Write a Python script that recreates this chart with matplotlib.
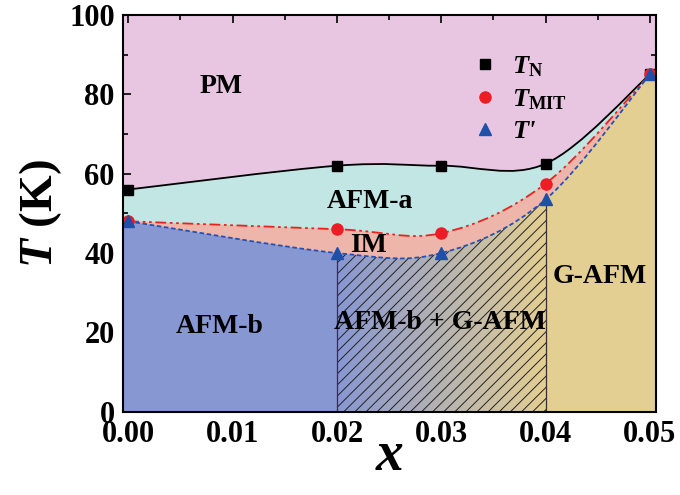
import numpy as np
import matplotlib
matplotlib.use('Agg')
import matplotlib.pyplot as plt
from matplotlib.path import Path
from matplotlib.patches import PathPatch, Rectangle
from matplotlib.ticker import MultipleLocator

plt.rcParams['font.family'] = 'Liberation Serif'
plt.rcParams['font.weight'] = 'bold'
plt.rcParams['mathtext.fontset'] = 'custom'
plt.rcParams['mathtext.it'] = 'Liberation Serif:bold:italic'
plt.rcParams['mathtext.rm'] = 'Liberation Serif:bold'
plt.rcParams['mathtext.bf'] = 'Liberation Serif:bold'

x = [0.0, 0.02, 0.03, 0.04, 0.05]
T_N = [56, 62, 62, 62.5, 85]
T_MIT = [48, 46, 45, 57.5, 85]
T_prime = [48, 40, 40, 53.5, 85]

phase_names = ['PM', 'AFM-a', 'IM', 'AFM-b', 'AFM-b + G-AFM', 'G-AFM']
phase_xy = [(0.0089, 82), (0.0232, 53), (0.0230, 42), (0.0088, 21.5),
            (0.0299, 22.5), (0.0452, 34)]

xmin, xmax = -0.0005, 0.0506
ymin, ymax = 0, 100

c_pm = '#e8c6e2'
c_afma = '#c2e6e4'
c_im = '#eeb5aa'
c_afmb = '#8797d2'
c_gafm = '#e4cf92'


def smooth_path(xs, ys):
    # courbe de Bezier (Catmull-Rom) passant par les points
    pts = np.column_stack([xs, ys]).astype(float)
    n = len(pts)
    verts = [pts[0]]
    codes = [Path.MOVETO]
    for i in range(n - 1):
        p0 = pts[max(i - 1, 0)]
        p1 = pts[i]
        p2 = pts[i + 1]
        p3 = pts[min(i + 2, n - 1)]
        c1 = p1 + (p2 - p0) / 6.0
        c2 = p2 - (p3 - p1) / 6.0
        verts += [c1, c2, p2]
        codes += [Path.CURVE4] * 3
    return verts, codes


def region_below(xs, ys):
    verts, codes = smooth_path(xs, ys)
    verts = [(xmin, ys[0])] + verts + [(xmax, ys[-1]), (xmax, ymin - 1), (xmin, ymin - 1), (xmin, ys[0])]
    codes = [Path.MOVETO] + [Path.LINETO] + codes[1:] + [Path.LINETO] * 3 + [Path.CLOSEPOLY]
    return Path(verts, codes)


fig = plt.figure(figsize=(6.8, 4.95), dpi=100)
ax = fig.add_axes([0.181, 0.168, 0.784, 0.802])
ax.set_facecolor(c_pm)

ax.add_patch(PathPatch(region_below(x, T_N), facecolor=c_afma, edgecolor='none', zorder=1))
ax.add_patch(PathPatch(region_below(x, T_MIT), facecolor=c_im, edgecolor='none', zorder=2))

clip = PathPatch(region_below(x, T_prime), facecolor='none', edgecolor='none',
                 transform=ax.transData)
ax.add_patch(clip)

r1 = Rectangle((xmin, ymin), x[1] - xmin, ymax, facecolor=c_afmb, edgecolor='none', zorder=3)
r3 = Rectangle((x[3], ymin), xmax - x[3], ymax, facecolor=c_gafm, edgecolor='none', zorder=3)
for r in (r1, r3):
    ax.add_patch(r)
    r.set_clip_path(clip)

grad = np.linspace(0, 1, 256)[None, :]
cmap = matplotlib.colors.LinearSegmentedColormap.from_list('bg', [c_afmb, c_gafm])
im = ax.imshow(grad, extent=(x[1], x[3], ymin, ymax), aspect='auto', cmap=cmap,
               origin='lower', zorder=3)
im.set_clip_path(clip)

plt.rcParams['hatch.linewidth'] = 0.7
hatch = Rectangle((x[1], ymin), x[3] - x[1], ymax, facecolor='none', edgecolor='#222222',
                  hatch='///', linewidth=0, zorder=4)
ax.add_patch(hatch)
hatch.set_clip_path(clip)

ax.vlines([x[1], x[3]], ymin, [T_prime[1], T_prime[3]], color='#333333', lw=0.9, zorder=5)

v, c = smooth_path(x, T_N)
ax.add_patch(PathPatch(Path(v, c), facecolor='none', edgecolor='black', lw=1.3, zorder=6))
v, c = smooth_path(x, T_MIT)
ax.add_patch(PathPatch(Path(v, c), facecolor='none', edgecolor='#e8231e', lw=1.3,
                       linestyle=(0, (6, 2, 1.5, 2, 1.5, 2)), zorder=6))
v, c = smooth_path(x, T_prime)
ax.add_patch(PathPatch(Path(v, c), facecolor='none', edgecolor='#2352b5', lw=1.3,
                       linestyle=(0, (2.5, 1.5)), zorder=6))

ax.plot(x, T_N, 's', color='black', ms=6.5, ls='none', zorder=7, label=r'T$_{\mathrm{N}}$')
ax.plot(x, T_MIT, 'o', color='#ee1c24', ms=8, ls='none', zorder=7, label=r'T$_{\mathrm{MIT}}$')
ax.plot(x, T_prime, '^', color='#1f4fa8', ms=8, ls='none', zorder=7, label="T'")

ax.legend(loc='upper left', bbox_to_anchor=(0.61, 0.96), frameon=False,
          prop={'family': 'Liberation Serif', 'style': 'italic', 'weight': 'bold', 'size': 19},
          handletextpad=0.5, labelspacing=0.3, handlelength=1.0)

for name, (tx, ty) in zip(phase_names, phase_xy):
    ax.text(tx, ty, name, fontsize=20, fontweight='bold', ha='center', va='center', zorder=8)

ax.set_xlim(xmin, xmax)
ax.set_ylim(ymin, ymax)
ax.xaxis.set_major_locator(MultipleLocator(0.01))
ax.xaxis.set_minor_locator(MultipleLocator(0.005))
ax.yaxis.set_major_locator(MultipleLocator(20))
ax.yaxis.set_minor_locator(MultipleLocator(10))
ax.xaxis.set_major_formatter(matplotlib.ticker.FormatStrFormatter('%.2f'))
ax.tick_params(which='both', direction='in', top=True, right=True, width=1.2, labelsize=22, pad=6)
ax.tick_params(which='major', length=6)
ax.tick_params(which='minor', length=3.5)
for s in ax.spines.values():
    s.set_linewidth(1.5)
    s.set_zorder(10)

ax.set_xlabel(r'$x$', fontsize=40, labelpad=-14)
ax.set_ylabel(r'$T$ (K)', fontsize=34, fontweight='bold', labelpad=4)

fig.savefig('out.png', dpi=100)
